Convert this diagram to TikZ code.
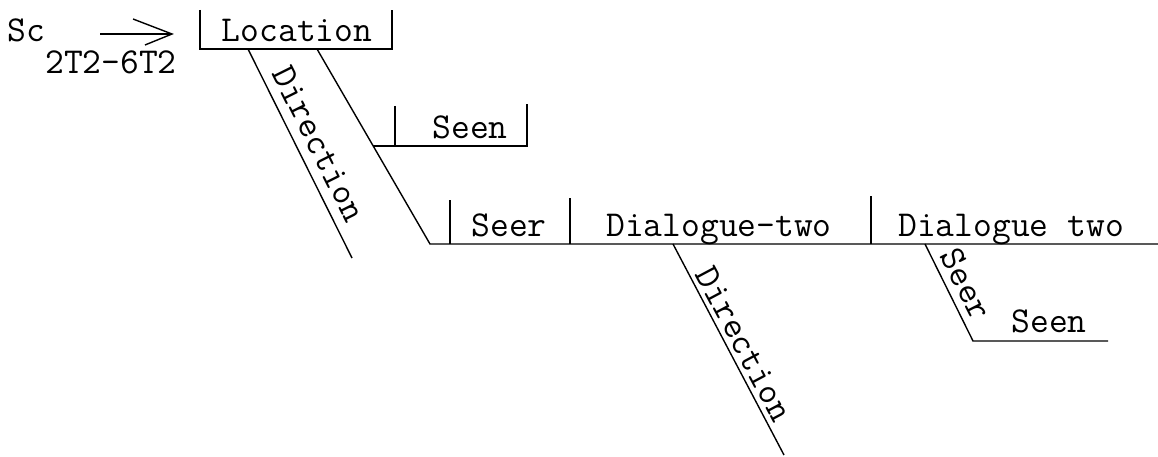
\documentclass[tikz,border=0pt]{standalone}
\usepackage{fontspec}
\begin{document}
\begin{tikzpicture}[x=1pt,y=-1pt,line width=1.4pt,
  word/.style={font=\ttfamily\fontsize{36.5}{42}\selectfont,inner sep=0pt,anchor=base},
  slantword/.style={font=\ttfamily\fontsize{36.5}{42}\selectfont,inner sep=0pt,anchor=center}]
\useasboundingbox (0,0) rectangle (1158,457);

% heading: Sc --> Location
\node[word] (sc) at (26,42) {Sc};
\node[word] (code) at (111,74) {2T2-6T2};
\node[word] (loc) at (297,42) {Location};
\coordinate (arrS) at (100,34);
\coordinate (arrT) at (172,34);
\coordinate (barbU) at (133,19);
\coordinate (barbD) at (145,45);
\draw (arrS) -- (arrT);
\draw (barbU) -- (arrT) -- (barbD);

% Location bracket
\coordinate (locTL) at (200,10);
\coordinate (locBL) at (200,49);
\coordinate (locBR) at (392,49);
\coordinate (locTR) at (392,10);
\draw (locTL) -- (locBL) -- (locBR) -- (locTR);

% Direction slant under Location
\coordinate (dirA) at (248,49);
\coordinate (dirB) at (352,258);
\draw (dirA) -- (dirB);
\node[slantword,rotate=-63.5] (dir1) at (319,144) {Direction};

% main slant down to the base line
\coordinate (mainA) at (317,49);
\coordinate (mainB) at (430,244);
\coordinate (mainE) at (1158,244);
\draw (mainA) -- (mainB) -- (mainE);

% Seen branch
\coordinate (seenA) at (373,146);
\coordinate (seenE) at (527,146);
\coordinate (seenT1) at (395,106);
\coordinate (seenB1) at (395,146);
\coordinate (seenT2) at (527,104);
\draw (seenA) -- (seenE) -- (seenT2);
\draw (seenT1) -- (seenB1);
\node[word] (seen1) at (470,139) {Seen};

% base line row
\coordinate (barT1) at (450,200);
\coordinate (barB1) at (450,244);
\coordinate (barT2) at (570,198);
\coordinate (barB2) at (570,244);
\coordinate (barT3) at (871,196);
\coordinate (barB3) at (871,244);
\draw (barT1) -- (barB1);
\draw (barT2) -- (barB2);
\draw (barT3) -- (barB3);
\node[word] (seer1) at (509,236) {Seer};
\node[word] (dlg1) at (719,236) {Dialogue-two};
\node[word] (dlg2) at (1011,236) {Dialogue two};

% Direction slant under Dialogue-two
\coordinate (dir2A) at (673,244);
\coordinate (dir2B) at (784,455);
\draw (dir2A) -- (dir2B);
\node[slantword,rotate=-62] (dir2) at (744,344) {Direction};

% Seer slant and Seen under Dialogue two
\coordinate (sA) at (925,244);
\coordinate (sB) at (973,341);
\coordinate (sE) at (1108,341);
\draw (sA) -- (sB) -- (sE);
\node[slantword,rotate=-63] (seer2) at (966,284) {Seer};
\node[word] (seen2) at (1049,332) {Seen};
\end{tikzpicture}
\end{document}
